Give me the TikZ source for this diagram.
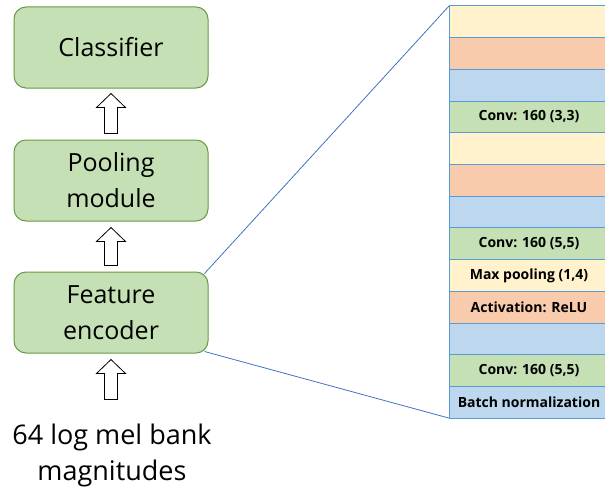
\documentclass[tikz,border=0pt]{standalone}
\usepackage{fontspec}
\setmainfont{Open Sans}
\usetikzlibrary{calc}
\definecolor{gfill}{HTML}{C5E0B4}
\definecolor{gline}{HTML}{6A9A45}
\definecolor{yfill}{HTML}{FFF2CC}
\definecolor{ofill}{HTML}{F8CBAD}
\definecolor{bfill}{HTML}{BDD7EE}
\definecolor{lline}{HTML}{5B9BD5}
\definecolor{zline}{HTML}{4472C4}
\tikzset{
  module/.style={draw=gline, line width=1pt, fill=gfill, rounded corners=12pt,
    minimum width=194pt, minimum height=81pt, inner sep=0pt, align=center,
    font=\fontsize{25}{36}\selectfont},
  layer/.style={draw=lline, line width=1pt, minimum width=160pt, minimum height=31.7pt,
    inner sep=0pt, outer sep=0pt, anchor=north west, font=\fontsize{14}{16}\selectfont\bfseries},
  hollow/.style={draw=black, line width=0.8pt, fill=white},
  zoomline/.style={draw=zline, line width=0.8pt}
}
\begin{document}
\begin{tikzpicture}[x=1pt,y=-1pt]
\useasboundingbox (0,0) rectangle (605,487);
\clip (0,0) rectangle (605,487);
\fill[white] (0,0) rectangle (605,487);

\node[module] (cls) at (111,47.5) {Classifier};
\node[module] (pool) at (111,180.5) {Pooling\\module};
\node[module] (enc) at (111,312.5) {Feature\\encoder};
\node[align=center, font=\fontsize{27}{36}\selectfont, inner sep=0pt] (inp) at (112,455) {64 log mel bank\\magnitudes};

\newcommand\hollowup[2]{%
  \draw[hollow] let \p1=(#1), \p2=(#2) in
    (\x1-6.5pt,\y1) -- (\x1-6.5pt,\y2-14pt) -- (\x1-14.5pt,\y2-14pt) -- (\x1,\y2)
    -- (\x1+14.5pt,\y2-14pt) -- (\x1+6.5pt,\y2-14pt) -- (\x1+6.5pt,\y1) -- cycle;}
\coordinate (a1t) at ($(enc.south)+(0,46)$);
\coordinate (a1h) at ($(enc.south)+(0,6)$);
\coordinate (a2t) at ($(enc.north)+(0,-6)$);
\coordinate (a2h) at ($(pool.south)+(0,6)$);
\coordinate (a3t) at ($(pool.north)+(0,-6)$);
\coordinate (a3h) at ($(cls.south)+(0,5)$);
\hollowup{a1t}{a1h}
\hollowup{a2t}{a2h}
\hollowup{a3t}{a3h}

% layer stack
\node[layer, fill=yfill] (l1) at (449,6) {};
\node[layer, fill=ofill] (l2) at (l1.south west) {};
\node[layer, fill=bfill] (l3) at (l2.south west) {};
\node[layer, fill=gfill] (l4) at (l3.south west) {Conv: 160 (3,3)};
\node[layer, fill=yfill] (l5) at (l4.south west) {};
\node[layer, fill=ofill] (l6) at (l5.south west) {};
\node[layer, fill=bfill] (l7) at (l6.south west) {};
\node[layer, fill=gfill] (l8) at (l7.south west) {Conv: 160 (5,5)};
\node[layer, fill=yfill] (l9) at (l8.south west) {Max pooling (1,4)};
\node[layer, fill=ofill] (l10) at (l9.south west) {Activation: ReLU};
\node[layer, fill=bfill] (l11) at (l10.south west) {};
\node[layer, fill=gfill] (l12) at (l11.south west) {Conv: 160 (5,5)};
\node[layer, fill=bfill] (l13) at (l12.south west) {Batch normalization};

\draw[zoomline] ($(enc.north east)+(-4,2)$) -- (l1.north west);
\draw[zoomline] ($(enc.south east)+(-4,-2)$) -- (l13.south west);
\end{tikzpicture}
\end{document}
